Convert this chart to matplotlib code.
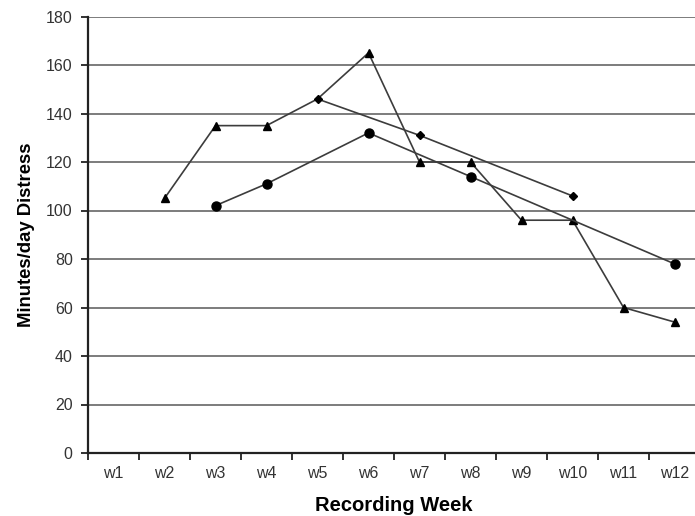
import numpy as np
import matplotlib.pyplot as plt
from matplotlib.ticker import FixedLocator


weeks = ['w1', 'w2', 'w3', 'w4', 'w5', 'w6', 'w7', 'w8', 'w9', 'w10', 'w11', 'w12']

# triangle series
tri_weeks = [2, 3, 4, 5, 6, 7, 8, 9, 10, 11, 12]
tri_vals = [105, 135, 135, 146, 165, 120, 120, 96, 96, 60, 54]

# circle series
circ_weeks = [3, 4, 6, 8, 12]
circ_vals = [102, 111, 132, 114, 78]

# diamond series
dia_weeks = [5, 7, 10]
dia_vals = [146, 131, 106]

yticks = [0, 20, 40, 60, 80, 100, 120, 140, 160, 180]

plt.rcParams['font.family'] = ['Liberation Sans', 'DejaVu Sans']

fig = plt.figure(figsize=(6.95, 5.16), dpi=100)
ax = fig.add_axes([88/695, 63/516, 612/695, 436.5/516])

line_c = '#3c3c3c'
# w5 marker of the triangle series is hidden under the diamond in the original
tri_marks = [i for i in range(len(tri_weeks)) if tri_weeks[i] != 5]
ax.plot(tri_weeks, tri_vals, color=line_c, lw=1.2, marker='^', ms=6,
        mfc='black', mec='black', markevery=tri_marks, zorder=3)
ax.plot(circ_weeks, circ_vals, color=line_c, lw=1.2, marker='o', ms=6.5,
        mfc='black', mec='black', zorder=3)
ax.plot(dia_weeks, dia_vals, color=line_c, lw=1.2, marker='D', ms=3.8,
        mfc='black', mec='black', zorder=4)

ax.set_xlim(0.5, 12.5)
ax.set_ylim(0, 180)
ax.set_yticks(yticks)
ax.set_xticks(np.arange(1, 13))
ax.set_xticklabels(weeks)
ax.xaxis.set_minor_locator(FixedLocator(np.arange(0.5, 13, 1)))

ax.yaxis.grid(True, color='#666666', lw=1.2)
ax.set_axisbelow(True)

for s in ['top', 'right']:
    ax.spines[s].set_visible(False)
for s in ['left', 'bottom']:
    ax.spines[s].set_linewidth(1.6)
    ax.spines[s].set_color('#222222')

ax.tick_params(axis='x', which='major', length=0, pad=9, labelsize=11.5, labelcolor='#333333')
ax.tick_params(axis='x', which='minor', length=5, width=1.3, color='#222222', direction='out')
ax.tick_params(axis='y', length=5, width=1.3, color='#222222', pad=6, labelsize=11.5, labelcolor='#333333')

ax.set_ylabel('Minutes/day Distress', fontsize=13.3, fontweight='bold', labelpad=8)
ax.set_xlabel('Recording Week', fontsize=14.5, fontweight='bold', labelpad=11)

fig.savefig('out.png', dpi=100)
